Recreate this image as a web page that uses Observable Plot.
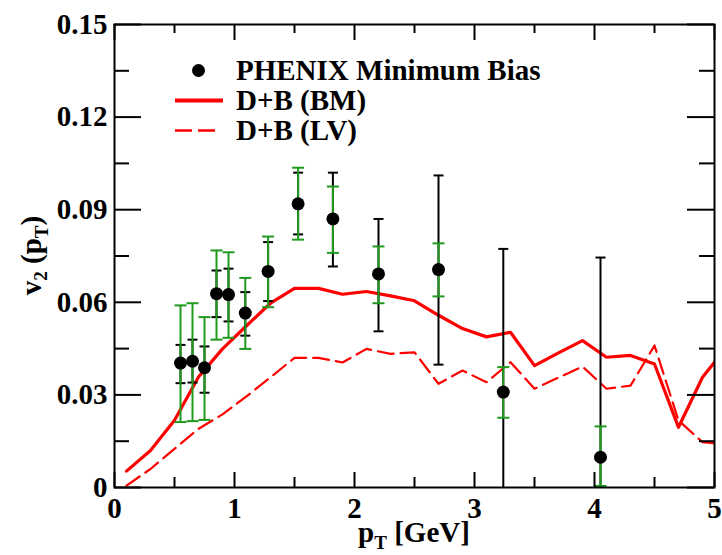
<!DOCTYPE html>
<html>
<head>
<meta charset="utf-8">
<script src="https://cdn.jsdelivr.net/npm/d3@7"></script>
<script src="https://cdn.jsdelivr.net/npm/@observablehq/plot@0.6"></script>
<style>
  html, body { margin: 0; padding: 0; background: #ffffff; }
  #chart { width: 722px; height: 555px; }
</style>
</head>
<body>
<div id="chart"></div>
<script>
// ---------- DATA ----------
// PHENIX minimum bias v2(pT) measurements
const ptData   = [0.55, 0.65, 0.75, 0.85, 0.95, 1.09, 1.28, 1.53, 1.82, 2.20, 2.70, 3.24, 4.05];
const v2Data   = [0.0403, 0.0409, 0.0388, 0.0628, 0.0625, 0.0565, 0.0700, 0.0919, 0.0870, 0.0692, 0.0706, 0.0309, 0.0098];
// green error bars (lower / upper ends)
const greenLo  = [0.0212, 0.0215, 0.0219, 0.0479, 0.0485, 0.0449, 0.0584, 0.0803, 0.0760, 0.0597, 0.0619, 0.0226, 0.0005];
const greenHi  = [0.0590, 0.0597, 0.0552, 0.0768, 0.0762, 0.0679, 0.0813, 0.1036, 0.0975, 0.0781, 0.0791, 0.0390, 0.0198];
// black error bars (lower / upper ends)
const blackLo  = [0.0338, 0.0340, 0.0307, 0.0552, 0.0538, 0.0492, 0.0604, 0.0820, 0.0716, 0.0506, 0.0398, -0.0155, -0.0550];
const blackHi  = [0.0462, 0.0479, 0.0457, 0.0703, 0.0709, 0.0633, 0.0795, 0.1020, 0.1020, 0.0870, 0.1011, 0.0773, 0.0745];

// model curves
const ptModel  = [0.1, 0.3, 0.5, 0.7, 0.9, 1.1, 1.3, 1.5, 1.7, 1.9, 2.1, 2.3, 2.5, 2.7, 2.9, 3.1, 3.3, 3.5, 3.7, 3.9, 4.1, 4.3, 4.5, 4.7, 4.9, 5.0];
const v2BM     = [0.0053, 0.0120, 0.0218, 0.0358, 0.0449, 0.0524, 0.0597, 0.0645, 0.0645, 0.0626, 0.0635, 0.0621, 0.0605, 0.0558, 0.0515, 0.0488, 0.0503, 0.0395, 0.0436, 0.0476, 0.0422, 0.0428, 0.0400, 0.0195, 0.0357, 0.0406];
const v2LV     = [0.0006, 0.0060, 0.0125, 0.0190, 0.0237, 0.0295, 0.0357, 0.0420, 0.0420, 0.0405, 0.0449, 0.0433, 0.0438, 0.0336, 0.0379, 0.0341, 0.0406, 0.0320, 0.0356, 0.0392, 0.0320, 0.0330, 0.0460, 0.0217, 0.0147, 0.0143];

// ticks
const xTicks      = [0, 1, 2, 3, 4, 5];
const xTickLabels = ["0", "1", "2", "3", "4", "5"];
const xMinor      = [0.5, 1.5, 2.5, 3.5, 4.5];
const yTicks      = [0, 0.03, 0.06, 0.09, 0.12, 0.15];
const yTickLabels = ["0", "0.03", "0.06", "0.09", "0.12", "0.15"];
const yMinor      = [0.015, 0.045, 0.075, 0.105, 0.135];

const legendLabels = ["PHENIX Minimum Bias", "D+B (BM)", "D+B (LV)"];

// ---------- LAYOUT ----------
const W = 722, H = 555;
const mL = 114, mR = 8, mT = 24, mB = 68;
const pw = W - mL - mR, ph = H - mT - mB;
const RED = "#ff0000", GREEN = "#1f9a1f";
const FONT = "'Liberation Serif', 'Times New Roman', Times, serif";
const FS = 29;

const points = ptData.map((x, i) => ({
  x, y: v2Data[i], gLo: greenLo[i], gHi: greenHi[i], bLo: blackLo[i], bHi: blackHi[i]
}));
const model = ptModel.map((x, i) => ({x, bm: v2BM[i], lv: v2LV[i]}));

const capSymbol = (hw) => ({
  draw(ctx) { ctx.moveTo(-hw, 0); ctx.lineTo(hw, 0); }
});

const plot = Plot.plot({
  width: W,
  height: H,
  marginLeft: mL, marginRight: mR, marginTop: mT, marginBottom: mB,
  style: {fontFamily: FONT, fontWeight: "bold", fontSize: FS + "px", background: "#ffffff", color: "#000000", overflow: "visible"},
  x: {domain: [0, 5]},
  y: {domain: [0, 0.15]},
  marks: [
    // model curves
    Plot.line(model, {x: "x", y: "lv", stroke: RED, strokeWidth: 2.2, strokeDasharray: "16,7", clip: true}),
    Plot.line(model, {x: "x", y: "bm", stroke: RED, strokeWidth: 3.2, clip: true}),
    // black error bars
    Plot.ruleX(points, {x: "x", y1: "bLo", y2: "bHi", stroke: "black", strokeWidth: 2, clip: true}),
    Plot.dot(points, {x: "x", y: "bHi", symbol: capSymbol(5), r: 5, fill: "none", stroke: "black", strokeWidth: 2, clip: true}),
    Plot.dot(points, {x: "x", y: "bLo", symbol: capSymbol(5), r: 5, fill: "none", stroke: "black", strokeWidth: 2, clip: true}),
    // green error bars
    Plot.ruleX(points, {x: "x", y1: "gLo", y2: "gHi", stroke: GREEN, strokeWidth: 2, clip: true}),
    Plot.dot(points, {x: "x", y: "gHi", symbol: capSymbol(6), r: 6, fill: "none", stroke: GREEN, strokeWidth: 2, clip: true}),
    Plot.dot(points, {x: "x", y: "gLo", symbol: capSymbol(6), r: 6, fill: "none", stroke: GREEN, strokeWidth: 2, clip: true}),
    // data points
    Plot.dot(points, {x: "x", y: "y", r: 6.5, fill: "black", stroke: "none"}),
    // inward ticks on all four sides
    Plot.tickY(yTicks, {y: d => d, insetRight: pw - 27, stroke: "black", strokeWidth: 2}),
    Plot.tickY(yMinor, {y: d => d, insetRight: pw - 15, stroke: "black", strokeWidth: 2}),
    Plot.tickY(yTicks, {y: d => d, insetLeft: pw - 27, stroke: "black", strokeWidth: 2}),
    Plot.tickY(yMinor, {y: d => d, insetLeft: pw - 15, stroke: "black", strokeWidth: 2}),
    Plot.tickX(xTicks, {x: d => d, insetTop: ph - 15, stroke: "black", strokeWidth: 2}),
    Plot.tickX(xMinor, {x: d => d, insetTop: ph - 10, stroke: "black", strokeWidth: 2}),
    Plot.tickX(xTicks, {x: d => d, insetBottom: ph - 16, stroke: "black", strokeWidth: 2}),
    Plot.tickX(xMinor, {x: d => d, insetBottom: ph - 9, stroke: "black", strokeWidth: 2}),
    // tick labels
    Plot.axisX(xTicks, {tickSize: 0, tickPadding: 10, tickFormat: d => xTickLabels[xTicks.indexOf(d)], label: null}),
    Plot.axisY(yTicks, {tickSize: 0, tickPadding: 7, tickFormat: d => yTickLabels[yTicks.indexOf(d)], label: null}),
    Plot.frame({stroke: "black", strokeWidth: 2})
  ]
});

const svg = d3.select(plot);

function styledText(sel) {
  return sel
    .attr("font-family", FONT).style("font-family", FONT)
    .attr("font-weight", "bold").attr("font-size", FS)
    .attr("fill", "black");
}

// x-axis title: p_T [GeV]
const xt = styledText(svg.append("text"))
  .attr("x", mL + pw / 2).attr("y", 542)
  .attr("text-anchor", "middle");
xt.append("tspan").text("p");
xt.append("tspan").attr("font-size", 19).attr("dy", 7).text("T");
xt.append("tspan").attr("dy", -7).text(" [GeV]");

// y-axis title: v_2 (p_T)
const yt = styledText(svg.append("text"))
  .attr("transform", `translate(41,${mT + ph / 2}) rotate(-90)`)
  .attr("text-anchor", "middle");
yt.append("tspan").text("v");
yt.append("tspan").attr("font-size", 19).attr("dy", 6).text("2");
yt.append("tspan").attr("dy", -6).text(" (p");
yt.append("tspan").attr("font-size", 19).attr("dy", 7).text("T");
yt.append("tspan").attr("dy", -7).text(")");

// legend
const lg = svg.append("g");
const rows = [70.5, 100.5, 130.5];
lg.append("circle").attr("cx", 198.5).attr("cy", rows[0]).attr("r", 6.5).attr("fill", "black");
lg.append("line").attr("x1", 175).attr("x2", 223).attr("y1", rows[1]).attr("y2", rows[1])
  .attr("stroke", RED).attr("stroke-width", 4);
lg.append("line").attr("x1", 175).attr("x2", 217).attr("y1", rows[2]).attr("y2", rows[2])
  .attr("stroke", RED).attr("stroke-width", 2.5).attr("stroke-dasharray", "17,6");
legendLabels.forEach((t, i) => {
  styledText(lg.append("text"))
    .attr("x", 236).attr("y", rows[i]).attr("dy", "0.33em")
    .attr("text-anchor", "start").style("text-anchor", "start")
    .text(t);
});

document.getElementById("chart").appendChild(plot);
</script>
</body>
</html>
